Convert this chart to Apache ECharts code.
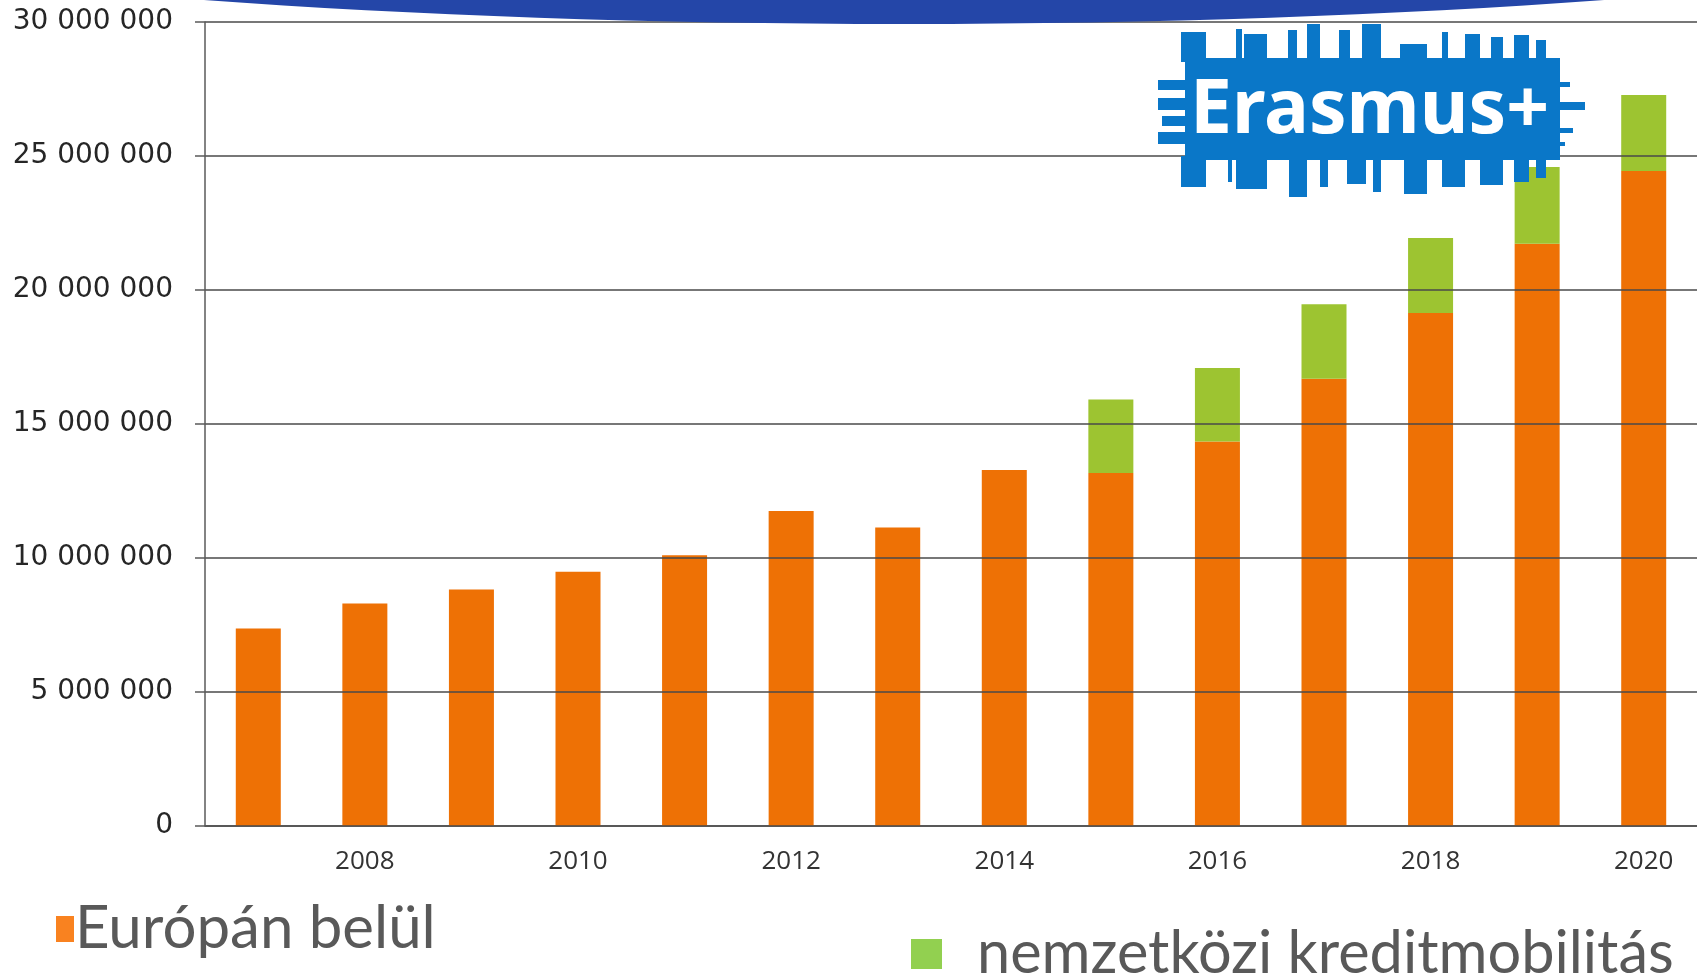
<!DOCTYPE html>
<html>
<head>
<meta charset="utf-8">
<script src="https://cdn.jsdelivr.net/npm/echarts@6/dist/echarts.min.js"></script>
<style>
    html, body {margin: 0; padding: 0; background: #fff;}
    #eCharts {width: 1697px; height: 978px;}
</style>
</head>
<body>
<div id="eCharts"></div>
<script>
var years = ['2007', '2008', '2009', '2010', '2011', '2012', '2013', '2014', '2015', '2016', '2017', '2018', '2019', '2020'];
// Európán belül
var europe = [7370000, 8300000, 8820000, 9490000, 10100000, 11750000, 11140000, 13280000, 13170000, 14350000, 16690000, 19140000, 21730000, 24440000];
// nemzetközi kreditmobilitás
var international = [null, null, null, null, null, null, null, null, 2740000, 2740000, 2780000, 2800000, 2860000, 2840000];
var yTicks = [0, 5000000, 10000000, 15000000, 20000000, 25000000, 30000000];

var fmt = function (v) {
    return String(v).replace(/\B(?=(\d{3})+(?!\d))/g, ' ');
};

// Erasmus+ logo: body + ragged strips
var logoBlue = '#0a77c8';
var topStrips = [[1181, 25, 32], [1236, 6, 29], [1244, 23, 34], [1288, 9, 30], [1307, 13, 24], [1339, 11, 30], [1362, 19, 24], [1400, 27, 44], [1442, 6, 32], [1465, 15, 34], [1491, 12, 37], [1514, 15, 35], [1536, 10, 40]];
var bottomStrips = [[1181, 25, 187], [1228, 4, 182], [1236, 31, 189], [1289, 18, 197], [1320, 8, 187], [1347, 19, 184], [1373, 8, 192], [1404, 23, 194], [1442, 23, 187], [1480, 23, 185], [1514, 15, 182], [1536, 10, 178]];
var sideStrips = [[1158, 30, 80, 10], [1158, 30, 98, 12], [1162, 26, 116, 10], [1158, 30, 132, 12], [1555, 30, 102, 8], [1555, 15, 82, 5], [1555, 18, 128, 5], [1555, 10, 142, 4]];

var logo = [{
    type: 'rect', z: 100,
    shape: {x: 1185, y: 58, width: 375, height: 102},
    style: {fill: logoBlue}
}];
topStrips.forEach(function (s) {
    logo.push({type: 'rect', z: 100, shape: {x: s[0], y: s[2], width: s[1], height: 62 - s[2]}, style: {fill: logoBlue}});
});
bottomStrips.forEach(function (s) {
    logo.push({type: 'rect', z: 100, shape: {x: s[0], y: 156, width: s[1], height: s[2] - 156}, style: {fill: logoBlue}});
});
sideStrips.forEach(function (s) {
    logo.push({type: 'rect', z: 100, shape: {x: s[0], y: s[2], width: s[1], height: s[3]}, style: {fill: logoBlue}});
});
logo.push({
    type: 'text', z: 101,
    x: 1190, y: 112,
    style: {
        text: 'Erasmus+',
        fill: '#ffffff',
        font: 'bold 75px "Noto Sans"',
        textVerticalAlign: 'middle'
    }
});

var myChart = echarts.init(document.getElementById('eCharts'));

option = {
    backgroundColor: '#ffffff',
    animation: false,
    graphic: [{
        type: 'ellipse', z: 100,
        shape: {cx: 904, cy: -184, rx: 1500, ry: 208},
        style: {fill: '#2446a8'}
    }].concat(logo),
    legend: [{
        left: 56, top: 899,
        padding: 0,
        icon: 'rect',
        itemWidth: 18, itemHeight: 26,
        textStyle: {fontFamily: 'Lato', fontSize: 60, color: '#595959', padding: [0, 0, 0, -4]},
        data: [{name: 'Európán belül', itemStyle: {color: '#f98220'}}]
    }, {
        left: 911, top: 924,
        padding: 0,
        icon: 'rect',
        itemWidth: 31, itemHeight: 30,
        textStyle: {fontFamily: 'Lato', fontSize: 59.5, color: '#595959', padding: [0, 0, 0, 30]},
        data: [{name: 'nemzetközi kreditmobilitás', itemStyle: {color: '#92d050'}}]
    }],
    grid: {left: 205, right: -9, top: 22, bottom: 152},
    xAxis: {
        type: 'category',
        data: years,
        axisLine: {lineStyle: {color: '#5a5a5a', width: 1.5}},
        axisTick: {interval: 0, length: 13, lineStyle: {color: '#5a5a5a', width: 1.5}},
        axisLabel: {
            interval: function (i) { return i % 2 === 1; },
            margin: 23,
            fontFamily: 'Open Sans',
            fontSize: 26,
            color: '#333333'
        }
    },
    yAxis: {
        type: 'value',
        min: yTicks[0], max: yTicks[yTicks.length - 1], interval: 5000000,
        z: 5,
        axisLine: {show: true, lineStyle: {color: '#5a5a5a', width: 1.5}},
        axisTick: {show: true, length: 10, lineStyle: {color: '#5a5a5a', width: 1.5}},
        splitLine: {lineStyle: {color: '#4a4a4a', width: 1.5}},
        axisLabel: {
            margin: 32,
            fontFamily: 'DejaVu Sans',
            fontSize: 28,
            color: '#262626',
            formatter: fmt
        }
    },
    series: [{
        name: 'Európán belül',
        type: 'bar',
        stack: 'total',
        barWidth: 45,
        itemStyle: {color: '#ee7105'},
        data: europe
    }, {
        name: 'nemzetközi kreditmobilitás',
        type: 'bar',
        stack: 'total',
        barWidth: 45,
        itemStyle: {color: '#9dc431'},
        data: international
    }]
};

myChart.setOption(option);
</script>
</body>
</html>
